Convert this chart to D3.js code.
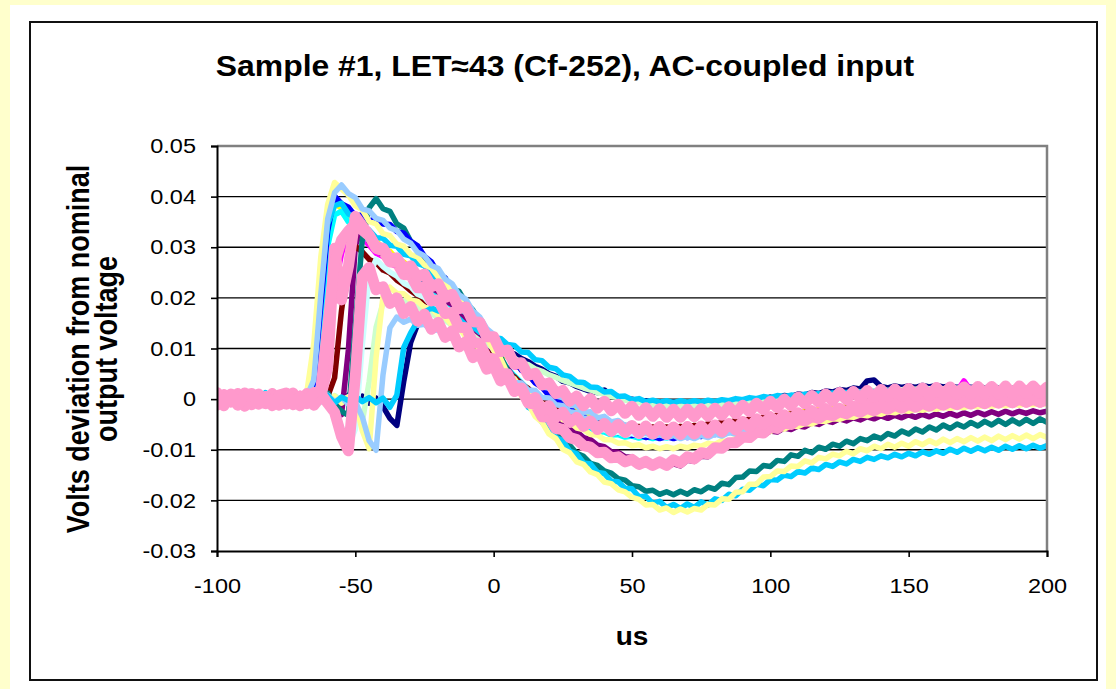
<!DOCTYPE html>
<html><head><meta charset="utf-8">
<script src="https://cdn.jsdelivr.net/npm/d3@7"></script>
<style>html,body{margin:0;padding:0;background:#FFFFCC;}svg{display:block;}</style>
</head><body>
<script>
// ---------- DATA (mV, time in microseconds) ----------
const time_us = [-100,-97.5,-95,-92.5,-90,-87.5,-85,-82.5,-80,-77.5,
-75,-72.5,-70,-67.5,-65,-62.5,-60,-57.5,-55,-52.5,
-50,-47.5,-45,-42.5,-40,-37.5,-35,-32.5,-30,-27.5,
-25,-22.5,-20,-17.5,-15,-12.5,-10,-7.5,-5,-2.5,
0,2.5,5,7.5,10,12.5,15,17.5,20,22.5,
25,27.5,30,32.5,35,37.5,40,42.5,45,47.5,
50,52.5,55,57.5,60,62.5,65,67.5,70,72.5,
75,77.5,80,82.5,85,87.5,90,92.5,95,97.5,
100,102.5,105,107.5,110,112.5,115,117.5,120,122.5,
125,127.5,130,132.5,135,137.5,140,142.5,145,147.5,
150,152.5,155,157.5,160,162.5,165,167.5,170,172.5,
175,177.5,180,182.5,185,187.5,190,192.5,195,197.5,
200];

const navy_mV = [0.7,-1.0,0.3,0.5,-0.6,1.2,-0.9,0.0,0.8,-0.4,
-0.5,1.0,-0.7,0.5,-0.2,0.9,-1.1,0.4,-0.6,0.8,
-0.3,0.6,-0.8,0.2,-1.5,-3.8,-5.2,3.5,11.2,14.8,
16.6,17.3,16.9,16.8,15.6,15.2,14.1,13.6,12.6,12.0,
11.0,10.4,9.5,8.9,8.0,7.4,6.5,5.9,5.0,4.5,
3.5,3.2,2.5,2.0,1.5,1.3,1.8,0.7,0.5,0.1,
0.0,-0.4,-0.3,-0.7,-0.5,-0.9,-0.6,-1.0,-0.7,-1.1,
-0.7,-1.1,-0.6,-1.0,-0.5,-0.8,-0.3,-0.5,0.0,-0.2,
0.4,0.2,0.7,0.5,1.0,0.8,1.3,1.1,1.6,1.4,
1.9,1.7,2.2,2.0,3.6,3.8,2.5,2.2,2.6,2.3,
2.6,2.3,2.7,2.4,2.7,2.4,2.6,2.3,2.6,2.3,
2.5,2.2,2.5,2.2,2.4,2.1,2.4,2.1,2.3,2.0,
2.2];

const magenta_mV = [-0.2,1.3,-0.6,0.1,0.7,-0.8,1.2,-1.1,0.4,0.8,
-0.7,0.5,1.1,-0.8,0.9,2.6,12.2,21.8,28.7,33.1,
33.6,31.8,30.4,28.8,28.2,26.8,26.2,24.9,24.6,23.2,
22.7,21.4,21.1,19.3,18.9,17.1,16.6,14.3,13.6,11.7,
11.1,9.0,8.6,6.4,6.3,4.3,4.2,2.4,2.6,0.9,
1.1,-0.4,0.0,-1.3,-0.7,-1.9,-1.3,-2.4,-1.8,-2.8,
-2.2,-3.1,-2.4,-3.3,-2.6,-3.4,-2.7,-3.3,-2.6,-3.2,
-2.4,-3.0,-2.2,-2.8,-1.9,-2.5,-1.5,-2.1,-1.1,-1.7,
-0.7,-1.3,-0.4,-0.9,0.0,-0.5,0.3,-0.2,0.7,0.1,
1.0,0.3,1.3,0.6,1.6,0.8,1.8,1.0,2.0,1.2,
2.2,1.3,2.3,1.4,2.5,1.5,2.6,1.6,3.6,1.7,
2.7,1.8,2.8,1.8,2.8,1.8,2.9,1.9,2.9,1.9,
2.6];

const yellow_mV = [-0.4,0.6,-1.0,0.8,-0.1,-0.9,1.1,-0.6,0.3,-0.2,
0.7,-0.5,0.9,-0.7,5.8,20.1,32.8,38.6,37.7,36.2,
34.3,33.4,31.7,31.3,29.7,29.2,27.7,27.1,25.8,25.1,
23.8,23.2,21.8,21.1,19.8,19.0,17.3,16.2,14.3,13.1,
11.3,10.2,8.3,7.3,5.8,4.8,3.3,2.5,1.3,0.6,
-0.6,-1.1,-2.2,-2.5,-3.4,-3.6,-4.2,-4.5,-5.1,-5.3,
-5.7,-5.6,-6.1,-5.8,-6.3,-5.9,-6.3,-5.8,-6.2,-5.7,
-6.0,-5.4,-5.6,-5.0,-5.2,-4.5,-4.7,-4.0,-4.1,-3.5,
-3.7,-3.1,-3.3,-2.7,-2.9,-2.3,-2.6,-2.0,-2.3,-1.7,
-2.0,-1.4,-1.8,-1.2,-1.5,-0.9,-1.3,-0.7,-1.1,-0.5,
-0.9,-0.3,-0.8,-0.2,-0.7,-0.1,-0.6,0.0,-0.5,0.1,
-0.4,0.2,-0.4,0.3,-0.3,0.3,-0.3,0.4,-0.2,0.4,
-0.1];

const turquoise_mV = [0.9,-0.2,-0.7,1.0,-0.5,0.3,-1.2,0.8,0.1,-0.6,
1.0,-0.9,0.2,0.4,2.0,14.5,30.2,36.4,37.1,35.0,
33.6,32.9,31.2,30.4,29.1,28.5,27.1,26.3,25.1,24.1,
22.9,22.0,20.6,19.6,18.3,17.0,15.4,14.1,12.3,10.9,
9.2,7.7,6.1,4.6,3.3,1.9,0.8,-0.5,-1.4,-2.5,
-3.2,-4.1,-4.6,-5.4,-5.7,-6.4,-6.5,-7.1,-7.0,-7.5,
-7.3,-7.7,-7.4,-7.8,-7.4,-7.7,-7.2,-7.5,-7.0,-7.2,
-6.6,-6.9,-6.2,-6.4,-5.7,-5.9,-5.1,-5.3,-4.6,-4.8,
-4.1,-4.3,-3.6,-3.8,-3.1,-3.4,-2.7,-3.0,-2.3,-2.6,
-2.0,-2.3,-1.7,-2.0,-1.4,-1.7,-1.2,-1.5,-1.0,-1.3,
-0.8,-1.1,-0.6,-0.9,-0.5,-0.8,-0.4,-0.7,-0.3,-0.6,
-0.2,-0.5,-0.1,-0.4,0.0,-0.3,0.0,-0.3,0.1,-0.2,
0.1];

const purple_mV = [0.5,-0.6,0.2,0.9,-1.2,0.4,-0.3,0.7,-0.9,1.0,
-0.4,0.6,-0.9,0.3,-0.5,0.8,-0.6,0.2,-3.1,9.8,
30.3,34.2,31.1,29.8,28.4,27.6,27.2,25.9,25.6,24.1,
23.6,21.9,21.2,19.4,18.7,16.7,15.6,13.5,12.2,10.1,
9.1,7.0,6.1,4.1,3.2,1.2,0.2,-1.6,-2.3,-4.0,
-4.4,-6.0,-6.4,-7.6,-8.0,-9.1,-9.4,-10.4,-10.5,-11.4,
-11.5,-12.4,-12.3,-13.1,-12.7,-13.4,-12.8,-13.2,-12.1,-12.3,
-11.3,-11.4,-10.1,-9.9,-8.6,-8.4,-7.6,-7.7,-6.8,-7.1,
-6.3,-6.5,-5.7,-6.0,-5.3,-5.5,-4.7,-5.0,-4.3,-4.6,
-3.9,-4.3,-3.7,-4.1,-3.5,-3.9,-3.3,-3.8,-3.2,-3.7,
-3.1,-3.6,-3.0,-3.5,-2.9,-3.4,-2.8,-3.3,-2.7,-3.2,
-2.6,-3.1,-2.5,-3.0,-2.4,-2.9,-2.4,-2.8,-2.3,-2.7,
-2.4];

const darkred_mV = [-0.9,0.4,0.8,-0.5,0.1,1.0,-0.7,-0.2,0.6,-1.1,
0.3,-0.2,0.6,-0.9,0.7,-0.4,0.5,4.2,17.5,27.3,
30.2,29.1,27.6,27.0,25.5,24.9,23.5,22.6,21.4,20.5,
19.4,18.7,17.4,16.9,15.3,14.7,13.0,12.2,10.4,9.5,
7.8,6.9,5.2,4.4,2.9,2.1,0.8,0.1,-1.0,-1.5,
-2.4,-2.8,-3.5,-3.8,-4.3,-4.4,-4.9,-4.9,-5.3,-5.2,
-5.5,-5.4,-5.7,-5.5,-5.8,-5.5,-5.7,-5.4,-5.6,-5.2,
-5.3,-4.9,-5.0,-4.6,-4.7,-4.2,-4.3,-3.9,-4.0,-3.5,
-3.6,-3.2,-3.3,-2.9,-3.0,-2.6,-2.7,-2.3,-2.4,-2.1,
-2.2,-1.8,-2.0,-1.6,-1.8,-1.4,-1.6,-1.3,-1.5,-1.1,
-1.3,-1.0,-1.2,-0.9,-1.1,-0.8,-1.0,-0.7,-0.9,-0.6,
-0.8,-0.5,-0.8,-0.5,-0.7,-0.4,-0.7,-0.4,-0.6,-0.3,
-0.6];

const teal_mV = [0.3,-0.7,0.9,-0.2,-1.1,0.6,0.1,-0.5,1.0,-0.8,
0.4,-0.3,0.8,-0.9,0.5,-0.6,1.2,-1.0,-2.4,-3.2,
14.5,31.5,37.8,39.6,37.6,37.1,34.6,33.8,31.2,30.1,
27.6,26.9,24.7,23.9,21.6,21.3,19.0,17.6,15.2,13.1,
10.3,8.4,5.8,3.9,1.3,-0.3,-2.7,-3.8,-5.8,-6.6,
-8.3,-9.1,-10.7,-11.3,-12.7,-13.1,-14.2,-14.6,-15.7,-16.0,
-17.1,-17.3,-18.2,-18.0,-18.8,-18.3,-18.9,-18.2,-18.8,-17.9,
-18.3,-17.4,-17.8,-16.6,-16.9,-15.5,-15.4,-14.2,-14.3,-13.1,
-13.3,-12.1,-12.3,-11.0,-11.3,-10.1,-10.6,-9.5,-9.9,-8.9,
-9.3,-8.3,-8.8,-7.8,-8.2,-7.3,-7.8,-6.8,-7.3,-6.3,
-6.9,-5.9,-6.5,-5.5,-6.1,-5.1,-5.8,-4.9,-5.5,-4.6,
-5.3,-4.4,-5.1,-4.2,-5.0,-4.1,-4.9,-4.0,-4.8,-3.9,
-4.6];

const blue_mV = [1.2,-0.3,0.5,-1.1,0.2,0.9,-0.8,0.4,-0.2,1.1,
-0.6,0.3,-1.0,0.7,3.1,18.4,33.2,40.1,38.6,37.9,
36.2,36.4,35.2,35.6,34.6,34.5,33.1,32.8,31.2,30.3,
28.2,27.1,24.8,23.9,21.7,20.6,18.2,17.1,14.7,13.6,
11.7,10.6,8.7,7.6,5.7,4.8,3.2,2.3,0.7,0.1,
-1.2,-1.7,-3.1,-3.4,-4.6,-4.7,-5.7,-5.8,-6.6,-6.5,
-7.2,-7.0,-7.6,-7.3,-7.8,-7.4,-7.8,-7.3,-7.6,-7.1,
-7.4,-6.8,-7.0,-6.4,-6.6,-5.9,-6.1,-5.4,-5.6,-4.9,
-5.1,-4.4,-4.6,-3.9,-4.1,-3.4,-3.6,-2.9,-3.1,-2.5,
-2.8,-2.1,-2.4,-1.8,-2.1,-1.5,-1.9,-1.2,-1.6,-1.0,
-1.4,-0.8,-1.2,-0.6,-1.0,-0.4,-0.8,-0.2,-0.6,0.0,
-0.5,0.1,-0.4,0.2,-0.3,0.3,-0.2,0.4,-0.2,0.4,
0.0];

const skyblue_mV = [-0.8,0.7,-0.2,1.1,-1.0,0.4,-0.6,1.3,-0.3,0.2,
0.9,-1.2,0.5,-0.4,5.2,22.0,34.6,38.2,38.7,36.6,
35.8,34.1,33.4,31.9,31.8,30.4,30.2,28.6,28.3,26.8,
26.3,24.5,23.7,21.8,20.8,18.6,17.7,15.2,13.8,11.3,
9.8,7.0,5.3,2.6,1.2,-1.6,-2.3,-4.6,-5.3,-7.6,
-8.2,-10.3,-10.8,-12.6,-12.8,-14.5,-14.7,-16.2,-16.3,-17.6,
-17.7,-19.3,-19.2,-20.6,-20.2,-21.4,-20.8,-21.6,-20.7,-21.4,
-20.3,-20.9,-19.7,-20.0,-18.8,-19.1,-17.8,-18.0,-16.8,-17.1,
-15.9,-16.0,-15.0,-15.3,-14.3,-14.6,-13.6,-13.9,-12.9,-13.3,
-12.4,-12.8,-11.9,-12.3,-11.5,-11.9,-11.2,-11.6,-10.9,-11.4,
-10.7,-11.2,-10.4,-10.9,-10.2,-10.7,-9.9,-10.5,-9.7,-10.3,
-9.6,-10.2,-9.5,-10.1,-9.3,-9.9,-9.2,-9.8,-9.1,-9.7,
-9.2];

const lightturq_mV = [0.2,0.8,-1.0,0.5,-0.4,0.9,-0.1,-0.8,1.1,-0.3,
0.6,-0.7,0.4,-0.2,0.8,-0.6,0.3,-1.9,-5.5,-9.2,
-6.0,10.5,24.5,27.6,26.2,25.1,24.3,22.9,22.2,20.7,
20.1,18.5,17.9,16.3,15.6,13.8,13.0,11.1,10.2,8.4,
7.6,5.8,5.1,3.3,2.7,1.0,0.5,-1.0,-1.4,-2.8,
-3.0,-4.2,-4.3,-5.3,-5.3,-6.1,-6.0,-6.7,-6.5,-7.1,
-6.8,-7.3,-7.0,-7.4,-7.0,-7.4,-6.9,-7.2,-6.7,-6.9,
-6.3,-6.5,-5.9,-6.0,-5.4,-5.5,-4.9,-5.0,-4.4,-4.5,
-3.9,-4.0,-3.4,-3.6,-3.0,-3.2,-2.6,-2.8,-2.2,-2.5,
-1.9,-2.2,-1.6,-1.9,-1.3,-1.7,-1.1,-1.5,-0.9,-1.3,
-0.7,-1.1,-0.6,-1.0,-0.4,-0.8,-0.3,-0.7,-0.2,-0.6,
-0.1,-0.5,0.0,-0.4,0.0,-0.4,0.1,-0.3,0.1,-0.3,
0.1];

const lightgreen_mV = [-1.1,0.3,0.6,-0.8,1.0,-0.4,0.2,0.7,-0.6,-0.1,
0.9,-0.8,0.1,0.6,-0.5,0.4,-0.9,0.7,-0.3,0.5,
-2.0,-4.6,3.5,14.2,19.0,20.1,19.3,19.5,18.4,18.3,
17.2,17.0,15.9,15.6,14.5,14.1,13.0,12.6,11.5,11.0,
10.0,9.5,8.6,8.1,7.2,6.8,6.0,5.5,4.8,4.3,
3.7,3.2,2.7,2.2,1.8,1.3,1.0,0.5,0.3,-0.2,
-0.3,-0.7,-0.7,-1.1,-1.0,-1.3,-1.1,-1.4,-1.1,-1.4,
-1.0,-1.3,-0.9,-1.1,-0.7,-0.9,-0.4,-0.6,-0.1,-0.3,
0.2,0.0,0.5,0.3,0.8,0.5,1.0,0.8,1.3,1.0,
1.5,1.2,1.7,1.4,1.9,1.6,2.0,1.7,2.1,1.8,
2.2,1.9,2.3,2.0,2.3,2.0,2.4,2.1,2.4,2.1,
2.4,2.1,2.4,2.1,2.4,2.1,2.4,2.1,2.4,2.1,
2.3];

const lightyellow_mV = [0.6,-0.9,1.2,-0.4,0.9,-1.3,0.2,1.0,-0.7,0.5,
-1.1,0.8,-0.3,1.5,11.0,28.0,38.5,42.8,41.5,40.3,
38.2,37.4,35.1,34.6,32.7,32.3,30.6,30.2,28.6,28.1,
26.5,25.9,24.1,23.2,21.1,20.0,17.6,16.2,13.6,12.3,
9.6,8.0,5.1,3.6,0.6,-0.9,-3.4,-4.6,-6.9,-7.8,
-9.9,-10.6,-12.4,-12.9,-14.4,-14.9,-16.4,-16.7,-17.9,-18.3,
-19.4,-19.8,-20.9,-20.8,-21.9,-21.5,-22.4,-21.7,-22.3,-21.6,
-21.9,-20.8,-20.9,-19.7,-19.8,-18.4,-18.3,-16.8,-16.8,-15.4,
-15.3,-14.2,-14.3,-13.2,-13.3,-12.2,-12.6,-11.5,-11.8,-10.9,
-11.2,-10.3,-10.8,-9.8,-10.2,-9.3,-9.8,-8.9,-9.5,-8.7,
-9.3,-8.4,-9.0,-8.2,-8.8,-7.9,-8.6,-7.8,-8.4,-7.6,
-8.3,-7.5,-8.2,-7.3,-8.0,-7.2,-7.9,-7.1,-7.8,-7.0,
-7.6];

const paleblue_mV = [-0.5,1.1,-0.9,0.3,0.8,-1.2,0.6,-0.4,0.9,-1.0,
0.2,1.0,-0.8,0.6,3.8,20.5,35.6,40.8,42.3,40.6,
39.8,37.6,37.2,35.7,35.3,33.8,33.3,31.6,30.8,29.0,
28.3,26.4,25.8,23.7,22.8,20.6,19.7,17.4,16.2,13.9,
12.8,10.7,9.7,7.6,6.8,4.9,4.2,2.4,2.2,0.6,
0.3,-1.2,-1.3,-2.6,-2.5,-3.7,-3.4,-4.5,-4.2,-5.3,
-4.8,-5.9,-5.4,-6.4,-5.8,-6.8,-6.1,-7.0,-6.3,-7.1,
-6.2,-7.0,-5.9,-6.7,-5.5,-6.2,-5.0,-5.7,-4.5,-5.1,
-3.9,-4.6,-3.5,-4.1,-3.0,-3.6,-2.6,-3.2,-2.3,-2.9,
-1.9,-2.6,-1.6,-2.3,-1.3,-2.0,-1.0,-1.7,-0.7,-1.5,
-0.5,-1.2,-0.3,-1.0,0.0,-0.8,0.2,-0.6,0.3,-0.5,
0.5,-0.3,0.6,-0.2,0.7,-0.1,0.8,0.0,0.9,0.1,
0.8];

const lightyellow2_mV = [0.9,-0.3,-0.8,0.6,0.2,-1.0,0.8,0.3,-0.5,1.1,
-0.2,-0.9,0.7,0.1,-0.6,0.9,-0.3,0.6,-0.8,0.4,
-0.6,-6.2,-9.8,8.2,20.3,22.1,20.9,20.8,19.6,19.3,
18.1,17.9,16.6,16.2,14.6,14.1,12.2,11.7,9.6,9.2,
7.2,6.6,4.6,4.0,2.2,1.4,-0.3,-0.9,-2.3,-2.9,
-4.1,-4.5,-5.7,-6.0,-7.0,-7.1,-8.0,-8.0,-8.7,-8.6,
-9.2,-9.0,-9.6,-9.3,-9.8,-9.4,-9.8,-9.3,-9.6,-9.1,
-9.3,-8.7,-8.9,-8.2,-8.4,-7.7,-7.8,-7.1,-7.1,-6.4,
-6.4,-5.8,-5.9,-5.3,-5.4,-4.8,-4.9,-4.3,-4.4,-3.9,
-4.0,-3.5,-3.6,-3.1,-3.3,-2.8,-3.0,-2.5,-2.7,-2.2,
-2.4,-2.0,-2.2,-1.8,-2.0,-1.6,-1.8,-1.5,-1.7,-1.3,
-1.5,-1.2,-1.4,-1.1,-1.3,-1.0,-1.2,-0.9,-1.1,-0.8,
-1.0];

const paleblue2_mV = [0.1,-0.9,0.7,-0.3,1.0,-0.5,0.4,-1.1,0.6,0.2,
-0.8,0.4,0.9,-0.6,0.2,-0.4,0.8,-0.5,0.3,-1.0,
-0.5,-3.5,-8.2,-10.1,4.8,14.1,16.2,15.2,15.8,14.6,
14.8,13.5,13.7,12.2,12.1,10.6,10.2,8.6,8.1,6.6,
6.2,4.8,4.7,3.3,3.2,1.8,1.7,0.3,0.2,-1.1,
-1.3,-2.5,-2.7,-3.8,-3.8,-4.8,-4.8,-5.7,-5.6,-6.4,
-6.3,-6.9,-6.7,-7.3,-7.0,-7.6,-7.2,-7.8,-7.3,-7.8,
-7.2,-7.6,-6.9,-7.3,-6.6,-6.9,-6.2,-6.4,-5.7,-5.9,
-5.2,-5.4,-4.7,-4.9,-4.2,-4.4,-3.7,-3.9,-3.3,-3.5,
-2.9,-3.1,-2.5,-2.7,-2.2,-2.4,-1.9,-2.1,-1.6,-1.8,
-1.4,-1.6,-1.2,-1.4,-1.0,-1.2,-0.9,-1.1,-0.8,-1.0,
-0.7,-0.9,-0.6,-0.8,-0.6,-0.8,-0.5,-0.7,-0.5,-0.7,
-0.5];

const skyblue2_mV = [-0.6,0.4,1.0,-0.7,-0.2,0.8,-1.0,0.5,0.1,-0.9,
0.5,0.2,-1.0,0.8,-0.4,0.1,0.7,-0.8,0.4,-0.3,
0.6,-0.5,0.3,-0.7,0.2,-1.6,0.8,10.2,13.1,15.4,
17.2,18.0,17.4,17.3,16.2,15.9,14.6,14.3,13.2,13.1,
12.1,12.0,10.8,10.6,9.3,9.2,7.8,7.6,6.3,6.0,
4.8,4.5,3.4,3.3,2.4,2.3,1.4,1.5,0.5,0.6,
-0.1,0.1,-0.5,-0.2,-0.6,-0.3,-0.7,-0.3,-0.6,-0.3,
-0.6,-0.2,-0.5,-0.1,-0.3,0.1,-0.1,0.3,0.1,0.5,
0.3,0.7,0.5,0.8,0.6,1.0,0.8,1.1,0.9,1.2,
1.0,1.3,1.1,1.4,1.2,1.5,1.3,1.6,1.3,1.6,
1.4,1.7,1.4,1.7,1.4,1.7,1.5,1.8,1.5,1.8,
1.5,1.8,1.5,1.8,1.5,1.8,1.5,1.8,1.5,1.8,
1.5];

const rose3_mV = [0.6,-1.3,1.0,-0.4,1.2,-1.1,0.3,-0.7,1.1,-0.5,
-1.0,0.7,-0.5,1.1,-1.2,0.5,6.3,29.8,19.6,26.2,
36.1,34.2,32.4,29.8,29.3,27.1,27.0,24.6,24.5,22.0,
22.1,19.4,19.6,16.9,17.1,14.2,14.1,11.2,11.0,8.1,
8.0,5.0,5.0,2.1,2.0,-0.8,-1.0,-3.5,-3.6,-5.8,
-6.0,-7.6,-8.0,-9.2,-9.5,-10.6,-10.5,-11.6,-11.4,-12.4,
-11.9,-12.9,-12.3,-13.1,-12.4,-13.1,-12.0,-12.6,-11.4,-11.8,
-10.6,-10.8,-9.6,-9.7,-8.6,-8.6,-7.5,-7.6,-6.5,-6.7,
-5.5,-5.8,-4.7,-5.0,-4.0,-4.3,-3.4,-3.8,-2.9,-3.3,
-2.5,-2.9,-2.1,-2.6,-1.8,-2.3,-1.5,-2.0,-1.2,-1.8,
-1.0,-1.6,-0.8,-1.4,-0.6,-1.2,-0.5,-1.1,-0.4,-1.0,
-0.3,-0.9,-0.2,-0.8,-0.1,-0.7,0.0,-0.6,0.0,-0.6,
-0.1];

const rose2_mV = [-1.2,0.9,-0.6,1.1,-1.4,0.3,1.0,-0.9,0.6,-1.2,
0.4,1.2,-1.3,0.8,-1.0,1.1,-0.8,-2.6,-7.4,-10.2,
4.5,24.3,26.0,21.6,22.2,18.9,20.0,16.9,18.3,15.4,
16.8,13.8,15.2,12.2,13.5,10.3,11.4,8.2,9.0,5.9,
6.6,3.6,4.3,1.5,2.2,-0.5,0.3,-2.2,-1.3,-3.6,
-2.6,-4.6,-3.6,-5.4,-4.3,-6.0,-4.8,-6.4,-5.0,-6.6,
-5.2,-6.8,-5.3,-6.9,-5.4,-7.0,-5.5,-7.0,-5.4,-6.9,
-5.3,-6.7,-5.1,-6.5,-4.8,-6.1,-4.4,-5.6,-3.9,-5.0,
-3.5,-4.5,-3.1,-4.0,-2.7,-3.6,-2.3,-3.2,-1.9,-2.8,
-1.8,-2.7,-1.4,-2.3,-1.0,-2.0,-0.7,-1.7,-0.5,-1.4,
-0.3,-1.2,-0.1,-1.1,0.0,-1.0,0.1,-0.9,0.2,-0.8,
0.3,-0.8,0.3,-0.7,0.4,-0.7,0.4,-0.6,0.5,-0.6,
0.2];

const rose1_mV = [1.3,-0.8,0.9,-1.2,0.7,1.1,-1.0,0.5,-1.3,0.8,
1.2,-1.1,0.6,-0.9,1.3,1.8,14.2,27.1,31.4,33.2,
34.6,33.4,32.3,30.1,29.8,27.7,27.9,25.8,26.3,24.1,
24.7,22.2,22.8,20.1,20.7,17.9,18.2,15.3,15.2,12.3,
12.3,9.4,9.7,6.9,7.2,4.7,5.1,2.8,3.2,1.1,
1.7,-0.4,0.6,-1.3,0.1,-1.8,-0.4,-2.3,-1.0,-2.8,
-1.4,-3.2,-1.7,-3.4,-1.9,-3.6,-2.0,-3.6,-2.0,-3.5,
-1.9,-3.4,-1.8,-3.2,-1.5,-2.9,-1.2,-2.5,-0.8,-2.1,
-0.4,-1.7,0.0,-1.3,0.4,-0.9,0.7,-0.6,1.0,-0.3,
1.3,-0.1,1.5,0.1,1.7,0.3,1.9,0.4,2.0,0.5,
2.1,0.6,2.2,0.7,2.3,0.8,2.4,0.9,2.4,0.9,
2.5,1.0,2.5,1.0,2.6,1.0,2.6,1.1,2.6,1.1,
2.4];

// series drawing order and colours (Excel default line palette)
const seriesValues = [navy_mV, magenta_mV, yellow_mV, turquoise_mV, purple_mV, darkred_mV,
  teal_mV, blue_mV, skyblue_mV, lightturq_mV, lightgreen_mV, lightyellow_mV, paleblue_mV,
  lightyellow2_mV, paleblue2_mV, skyblue2_mV, rose3_mV, rose2_mV, rose1_mV];
const seriesColors = ["#000080","#FF00FF","#FFFF00","#00FFFF","#800080","#800000",
  "#008080","#0000FF","#00CCFF","#CCFFFF","#CCFFCC","#FFFF99","#99CCFF",
  "#FFFF99","#99CCFF","#00CCFF","#FF99CC","#FF99CC","#FF99CC"];

const yTicks = [-0.03,-0.02,-0.01,0,0.01,0.02,0.03,0.04,0.05];
const xTicks = [-100,-50,0,50,100,150,200];
const titleText = "Sample #1, LET\u224843 (Cf-252), AC-coupled input";
const yTitleLines = ["Volts deviation from nominal", "output voltage"];
const xTitleText = "us";

// ---------- DRAWING ----------
const W = 1116, H = 689;
const SX = 1.12; // horizontal text stretch seen in the picture
const FONT = "'Liberation Sans', Arial, sans-serif";
const svg = d3.select("body").append("svg").attr("width", W).attr("height", H);

svg.append("rect").attr("width", W).attr("height", H).attr("fill", "#FFFFCC");
svg.append("rect").attr("x", 10).attr("y", 5).attr("width", 1096).attr("height", 684).attr("fill", "#fff");
svg.append("rect").attr("x", 30).attr("y", 22).attr("width", 1067).attr("height", 658)
  .attr("fill", "#fff").attr("stroke", "#111").attr("stroke-width", 2);

const P = {l: 217, r: 1047, t: 146, b: 551};
const x = d3.scaleLinear().domain([-100, 200]).range([P.l, P.r]);
const y = d3.scaleLinear().domain([-0.03, 0.05]).range([P.b, P.t]);

// gridlines
svg.append("g").selectAll("line").data(yTicks.filter(v => v > -0.03 && v < 0.05)).join("line")
  .attr("x1", P.l).attr("x2", P.r).attr("y1", d => y(d)).attr("y2", d => y(d))
  .attr("stroke", "#000").attr("stroke-width", 1.4);

// traces
svg.append("clipPath").attr("id", "pc").append("rect")
  .attr("x", P.l).attr("y", P.t - 2).attr("width", P.r - P.l).attr("height", P.b - P.t + 4);
const line = d3.line().x((d, i) => x(time_us[i])).y(d => y(d / 1000));
const gT = svg.append("g").attr("clip-path", "url(#pc)");
seriesValues.forEach((vals, k) => {
  if (vals.length !== time_us.length) console.error("length mismatch", k, vals.length);
  gT.append("path").attr("d", line(vals)).attr("fill", "none")
    .attr("stroke", seriesColors[k]).attr("stroke-width", k >= 16 ? 11 : 5.5)
    .attr("stroke-linejoin", "round").attr("stroke-linecap", "round");
});

// plot border top/right (grey)
svg.append("path").attr("d", `M${P.l},${P.t}H${P.r}V${P.b}`).attr("fill", "none")
  .attr("stroke", "#808080").attr("stroke-width", 2.5);

// axes
const yAxis = svg.append("g").attr("transform", `translate(${P.l},0)`)
  .call(d3.axisLeft(y).tickValues(yTicks).tickSize(6).tickPadding(16)
    .tickFormat(d => d === 0 ? "0" : d.toFixed(2)));
const xAxis = svg.append("g").attr("transform", `translate(0,${P.b})`)
  .call(d3.axisBottom(x).tickValues(xTicks).tickSize(6).tickPadding(21).tickFormat(d => String(d)));
[yAxis, xAxis].forEach(g => {
  g.select(".domain").attr("stroke", "#000").attr("stroke-width", 2);
  g.selectAll(".tick line").attr("stroke", "#000").attr("stroke-width", 1.6);
  g.selectAll(".tick text").attr("font-family", FONT).attr("font-size", 21).attr("fill", "#000");
});
yAxis.selectAll(".tick text").attr("x", -21 / SX).attr("transform", `scale(${SX},1)`);
xAxis.selectAll(".tick text").attr("transform", `scale(${SX},1)`);

// title
svg.append("text").attr("transform", `translate(565,76) scale(1.1,1)`)
  .attr("text-anchor", "middle").attr("font-family", FONT).attr("font-weight", "bold")
  .attr("font-size", 29).text(titleText);

// x title
svg.append("text").attr("transform", `translate(632,645) scale(${SX},1)`)
  .attr("text-anchor", "middle").attr("font-family", FONT).attr("font-weight", "bold")
  .attr("font-size", 25).text(xTitleText);

// y title (two lines, rotated)
[89, 117].forEach((bx, i) => {
  svg.append("text").attr("transform", `translate(${bx},349) scale(1.15,1) rotate(-90)`)
    .attr("text-anchor", "middle").attr("font-family", FONT).attr("font-weight", "bold")
    .attr("font-size", 27).text(yTitleLines[i]);
});
</script>
</body></html>
